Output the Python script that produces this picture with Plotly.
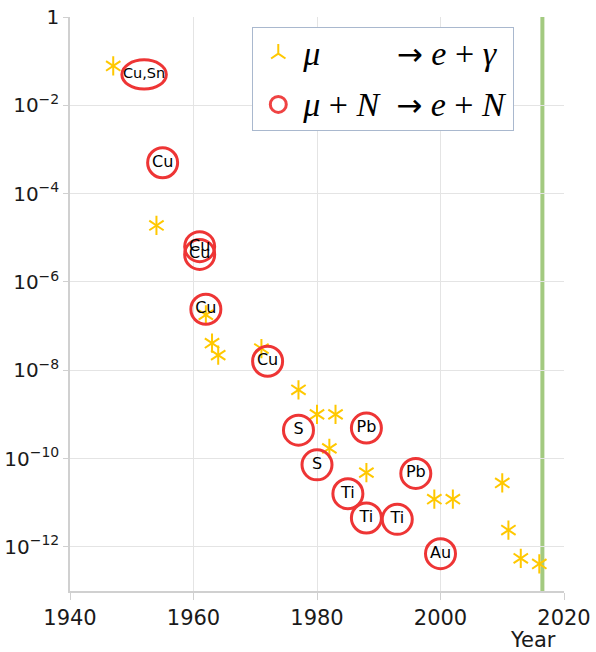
import plotly.graph_objects as go

# mu -> e + gamma upper limits (year, branching-ratio limit)
meg_years = [1947, 1954, 1962, 1963, 1964, 1971, 1977, 1980, 1982, 1983,
             1988, 1999, 2002, 2010, 2011, 2013, 2016]
meg_limits = [7.8e-2, 1.9e-5, 1.8e-7, 4.1e-8, 2.2e-8, 3.1e-8, 3.6e-9, 1.0e-9,
              1.7e-10, 1.0e-9, 4.8e-11, 1.2e-11, 1.2e-11, 2.8e-11, 2.4e-12,
              5.5e-13, 4.1e-13]

# mu + N -> e + N conversion upper limits
conv_years = [1952, 1955, 1961, 1961, 1962, 1972, 1977, 1988, 1980, 1996,
              1985, 1988, 1993, 2000]
conv_limits = [5.0e-2, 5.0e-4, 6.3e-6, 4.2e-6, 2.4e-7, 1.6e-8, 4.4e-10,
               4.9e-10, 7.2e-11, 4.6e-11, 1.6e-11, 4.5e-12, 4.2e-12, 7.0e-13]
conv_targets = ["Cu,Sn", "Cu", "Cu", "Cu", "Cu", "Cu", "S", "Pb", "S", "Pb",
                "Ti", "Ti", "Ti", "Au"]

x_tick_vals = [1940, 1960, 1980, 2000, 2020]
y_tick_vals = [1, 1e-2, 1e-4, 1e-6, 1e-8, 1e-10, 1e-12]
y_tick_text = ["1", "10<sup>−2</sup>", "10<sup>−4</sup>", "10<sup>−6</sup>",
               "10<sup>−8</sup>", "10<sup>−10</sup>", "10<sup>−12</sup>"]
current_year = 2016.5

STAR = "#FFC800"
RED = "#EE3535"
GREEN = "#A3CA80"
GRID = "#E4E4E4"
AXIS = "#D0D0D0"
FONT = "DejaVu Sans"
MATH = "Liberation Serif"
NB = "\u00a0"

# ellipse half-extent (years, decades) around the combined Cu,Sn label
ELL_DX = 3.6
ELL_DDEC = 0.33


def math(s):
    return '<span style="font-size:34px">' + s + "</span>"


ARROW = '<span style="font-family:DejaVu Sans;font-size:31px">→</span>'

label_sizes = [14.5 if len(t) > 2 else 16 for t in conv_targets]
marker_opacity = [0 if "," in t else 1 for t in conv_targets]

fig = go.Figure()

meg_name = math("<i>μ</i>" + NB * 9 + ARROW + NB + "<i>e</i>" + NB + "+" + NB
                + "<i>γ</i>")
conv_name = math("<i>μ</i>" + NB + "+" + NB + "<i>N</i>" + NB * 2 + ARROW + NB
                 + "<i>e</i>" + NB + "+" + NB + "<i>N</i>")

fig.add_trace(go.Scatter(
    x=meg_years, y=meg_limits, mode="markers", name=meg_name,
    legendgroup="meg",
    marker=dict(symbol="y-up-open", size=12, color=STAR,
                line=dict(color=STAR, width=2)),
))
fig.add_trace(go.Scatter(
    x=meg_years, y=meg_limits, mode="markers", showlegend=False,
    legendgroup="meg",
    marker=dict(symbol="y-down-open", size=12, color=STAR,
                line=dict(color=STAR, width=2)),
))

fig.add_trace(go.Scatter(
    x=conv_years, y=conv_limits, mode="markers+text", name=conv_name,
    text=conv_targets, textposition="middle center",
    textfont=dict(family=FONT, size=label_sizes, color="black"),
    marker=dict(symbol="circle-open", size=30, color=RED,
                opacity=marker_opacity, line=dict(color=RED, width=3)),
))

# the first (Cu,Sn) measurement is drawn as an ellipse around its label
for yr, lim, tgt in zip(conv_years, conv_limits, conv_targets):
    if "," in tgt:
        fig.add_shape(type="circle", xref="x", yref="y",
                      x0=yr - ELL_DX, x1=yr + ELL_DX,
                      y0=lim / 10 ** ELL_DDEC, y1=lim * 10 ** ELL_DDEC,
                      line=dict(color=RED, width=3), layer="between")

fig.add_shape(type="line", xref="x", yref="paper",
              x0=current_year, x1=current_year, y0=0, y1=1,
              line=dict(color=GREEN, width=4), layer="between")

fig.add_annotation(text="Year", xref="paper", yref="paper", x=0.937, y=-0.085,
                   xanchor="center", yanchor="middle", showarrow=False,
                   font=dict(family=FONT, size=21, color="#1a1a1a"))

fig.update_layout(
    width=596, height=652,
    margin=dict(l=70, r=32, t=17, b=61),
    plot_bgcolor="white", paper_bgcolor="white",
    font=dict(family=FONT, size=20, color="#1a1a1a"),
    legend=dict(x=0.369, y=0.982, xanchor="left", yanchor="top",
                bgcolor="white", bordercolor="#A9B8CE", borderwidth=1,
                font=dict(family=MATH, size=29, color="black"),
                itemwidth=40),
    xaxis=dict(range=[1940, 2020], tickvals=x_tick_vals, showgrid=True,
               gridcolor=GRID, gridwidth=1, zeroline=False, showline=True,
               linecolor=AXIS, linewidth=1.5, ticks="outside", ticklen=7,
               tickcolor=AXIS, automargin=False,
               tickfont=dict(family=FONT, size=21, color="#1a1a1a")),
    yaxis=dict(type="log", range=[-13, 0], tickvals=y_tick_vals,
               ticktext=y_tick_text, showgrid=True, gridcolor=GRID,
               gridwidth=1, zeroline=False, showline=True, linecolor=AXIS,
               linewidth=1.5, ticks="outside", ticklen=5, tickcolor=AXIS,
               automargin=False,
               tickfont=dict(family=FONT, size=20, color="#1a1a1a")),
)

fig.write_html("out.html")
